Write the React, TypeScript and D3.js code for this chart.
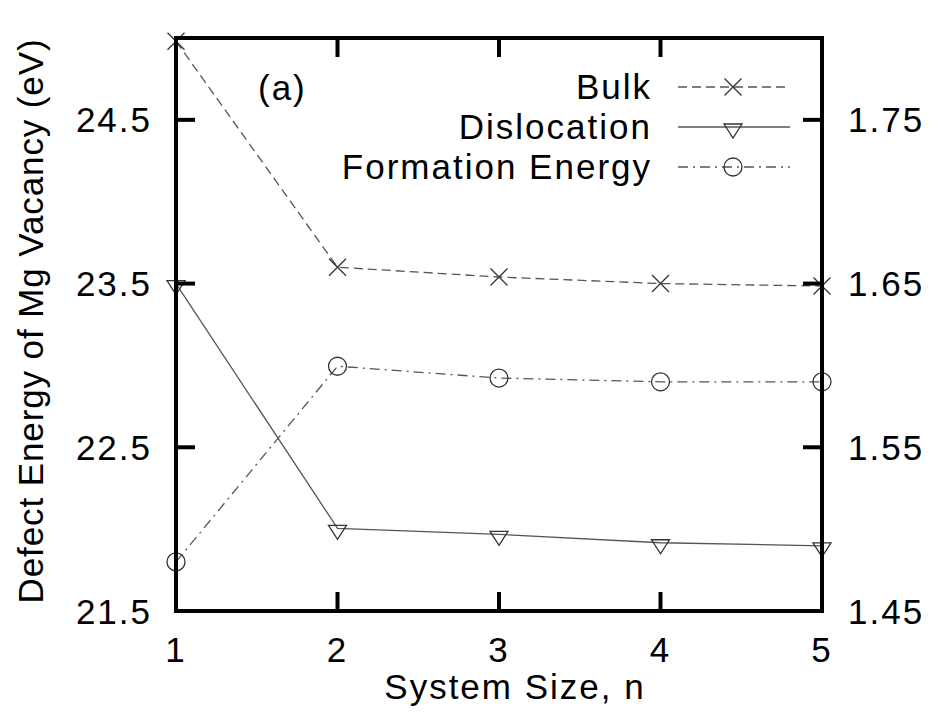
import React from "react";
import * as d3 from "d3";

const sizes = [1, 2, 3, 4, 5];
const bulk = [24.98, 23.6, 23.54, 23.5, 23.485];
const dislocation = [23.5, 22.005, 21.968, 21.917, 21.898];
const formation = [1.48, 1.5995, 1.5923, 1.59, 1.59];
const leftTicks = [21.5, 22.5, 23.5, 24.5];
const rightTicks = [1.45, 1.55, 1.65, 1.75];
const xTicks = [1, 2, 3, 4, 5];

const W = 942;
const H = 715;
const L = 176, R = 822, T = 38, B = 611;
const FONT = "'Liberation Sans', Arial, Helvetica, sans-serif";
const FS = 35;
const LS = 2;

export default function App() {
  const x = d3.scaleLinear().domain([1, 5]).range([L, R]);
  const y = d3.scaleLinear().domain([21.5, 25]).range([B, T]);
  const y2 = d3.scaleLinear().domain([1.45, 1.8]).range([B, T]);

  const lineL = d3.line<number>().x((_, i) => x(sizes[i])).y((d) => y(d));
  const lineR = d3.line<number>().x((_, i) => x(sizes[i])).y((d) => y2(d));

  const lineColor = "#555";
  const markColor = "#333";

  const cross = (cx: number, cy: number, key: string) => (
    <path key={key} d={`M${cx - 8.5},${cy - 8.5}L${cx + 8.5},${cy + 8.5}M${cx - 8.5},${cy + 8.5}L${cx + 8.5},${cy - 8.5}`}
      stroke={markColor} strokeWidth={1.3} fill="none" />
  );
  const tri = (cx: number, cy: number, key: string) => (
    <path key={key} d={`M${cx - 9},${cy - 3}L${cx + 9},${cy - 3}L${cx},${cy + 11}Z`}
      stroke={markColor} strokeWidth={1.3} fill="none" />
  );
  const circ = (cx: number, cy: number, key: string) => (
    <circle key={key} cx={cx} cy={cy} r={9} stroke={markColor} strokeWidth={1.3} fill="none" />
  );

  const textStyle = { fontFamily: FONT, fontSize: FS, letterSpacing: LS, fill: "#000" } as React.CSSProperties;

  const legend = [
    { label: "Bulk", dash: "9,5", mark: cross, y: 87 },
    { label: "Dislocation", dash: "none", mark: tri, y: 127 },
    { label: "Formation Energy", dash: "10,5,2,5", mark: circ, y: 167 },
  ];

  return (
    <svg width={W} height={H} style={{ position: "absolute", left: 0, top: 0, background: "#fff" }}>
      <rect x={0} y={0} width={W} height={H} fill="#fff" />
      {/* data lines */}
      <path d={lineL(bulk) || ""} stroke={lineColor} strokeWidth={1.3} fill="none" strokeDasharray="9,5" />
      <path d={lineL(dislocation) || ""} stroke={lineColor} strokeWidth={1.3} fill="none" />
      <path d={lineR(formation) || ""} stroke={lineColor} strokeWidth={1.3} fill="none" strokeDasharray="10,5,2,5" />
      {bulk.map((v, i) => cross(x(sizes[i]), y(v), "b" + i))}
      {dislocation.map((v, i) => tri(x(sizes[i]), y(v), "d" + i))}
      {formation.map((v, i) => circ(x(sizes[i]), y2(v), "f" + i))}

      {/* frame */}
      <rect x={L} y={T} width={R - L} height={B - T} fill="none" stroke="#000" strokeWidth={4} />
      {/* x ticks */}
      {xTicks.map((t) => (
        <g key={"xt" + t}>
          <line x1={x(t)} x2={x(t)} y1={B} y2={B - 19} stroke="#000" strokeWidth={4} />
          <line x1={x(t)} x2={x(t)} y1={T} y2={T + 19} stroke="#000" strokeWidth={4} />
          <text x={x(t)} y={662} textAnchor="middle" style={textStyle}>{t}</text>
        </g>
      ))}
      {leftTicks.map((t) => (
        <g key={"lt" + t}>
          <line x1={L} x2={L + 19} y1={y(t)} y2={y(t)} stroke="#000" strokeWidth={4} />
          <text x={152} y={y(t) + 12.5} textAnchor="end" style={textStyle}>{t.toFixed(1)}</text>
        </g>
      ))}
      {rightTicks.map((t) => (
        <g key={"rt" + t}>
          <line x1={R} x2={R - 19} y1={y2(t)} y2={y2(t)} stroke="#000" strokeWidth={4} />
          <text x={848} y={y2(t) + 12.5} textAnchor="start" style={textStyle}>{t.toFixed(2)}</text>
        </g>
      ))}

      {/* axis titles */}
      <text x={515} y={699} textAnchor="middle" style={textStyle}>System Size, n</text>
      <text transform={`translate(43,${321}) rotate(-90)`} textAnchor="middle"
        style={{ ...textStyle, letterSpacing: 0.9 }}>
        Defect Energy of Mg Vacancy (eV)
      </text>
      <text x={258} y={100} style={textStyle}>(a)</text>

      {/* legend */}
      {legend.map((e) => (
        <g key={e.label}>
          <text x={652} y={e.y + 12} textAnchor="end" style={textStyle}>{e.label}</text>
          <line x1={678} x2={790} y1={e.y} y2={e.y} stroke={lineColor} strokeWidth={1.3}
            strokeDasharray={e.dash === "none" ? undefined : e.dash} />
          {e.mark(733, e.y, "m" + e.label)}
        </g>
      ))}
    </svg>
  );
}
